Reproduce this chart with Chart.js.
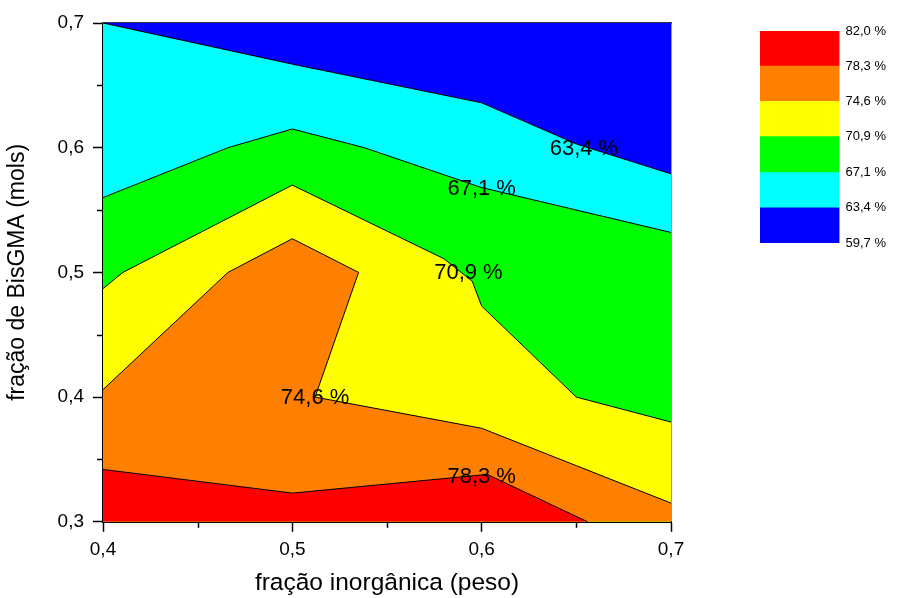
<!DOCTYPE html>
<html>
<head>
<meta charset="utf-8">
<script src="https://cdn.jsdelivr.net/npm/chart.js@4.4.0/dist/chart.umd.min.js"></script>
<style>
  html, body { margin: 0; padding: 0; background: #fff; }
  #wrap { position: relative; width: 897px; height: 598px; }
  #contour { position: absolute; left: 0; top: 0; }
  #scale { position: absolute; left: 700px; top: 0; }
</style>
</head>
<body>
<div id="wrap">
  <canvas id="contour" width="897" height="598"></canvas>
  <canvas id="scale" width="197" height="280"></canvas>
</div>
<script>
// contour levels (%) and the fill colour of each band between them
const levels = [59.7, 63.4, 67.1, 70.9, 74.6, 78.3, 82.0];
const bandColors = ["#0000ff", "#00ffff", "#00ff00", "#ffff00", "#ff8000", "#ff0000"];

// iso-lines as [fração inorgânica, fração de BisGMA]
const line634 = [[0.4, 0.7], [0.5, 0.667], [0.6, 0.636], [0.65, 0.603], [0.7, 0.579]];
const line671 = [[0.4, 0.560], [0.466, 0.6], [0.5, 0.615], [0.538, 0.6], [0.6, 0.568], [0.7, 0.532]];
const line709 = [[0.4, 0.487], [0.4105, 0.5], [0.5, 0.570], [0.58, 0.511], [0.595, 0.493], [0.6, 0.473], [0.65, 0.4], [0.7, 0.38]];
const line746 = [[0.4, 0.406], [0.466, 0.5], [0.5, 0.527], [0.535, 0.5], [0.512, 0.4], [0.6, 0.375], [0.65, 0.345], [0.7, 0.315]];
const line783 = [[0.4, 0.342], [0.5, 0.323], [0.603, 0.338], [0.656, 0.3]];
const isoLines = [line634, line671, line709, line746, line783];

// labels sitting on the iso-lines
const labelX = [0.654, 0.6, 0.593, 0.512, 0.6];
const labelY = [0.599, 0.567, 0.4995, 0.399, 0.336];
const labelText = ["63,4 %", "67,1 %", "70,9 %", "74,6 %", "78,3 %"];

// plot range
const xMin = 0.4, xMax = 0.7;
const yMin = 0.3, yMax = 0.7;

const FONT = '"Liberation Sans", Arial, Helvetica, sans-serif';

function toPts(arr) {
  return arr.map(p => ({x: p[0], y: p[1]}));
}

function isMajor(v) {
  return Math.abs(v * 10 - Math.round(v * 10)) < 1e-6;
}

function commaTick(v) {
  return isMajor(v) ? v.toFixed(1).replace(".", ",") : "";
}

// background band + one filled polygon below every iso-line, painted bottom-up
let datasets = [];
datasets.push({
  data: toPts([[xMin, yMin], [xMin, yMax], [xMax, yMax], [xMax, yMin]]),
  backgroundColor: bandColors[0],
  borderColor: "rgba(0,0,0,0)",
  fill: "shape",
  order: 20
});
isoLines.forEach((ln, i) => {
  datasets.push({
    data: toPts(ln.concat([[xMax, yMin], [xMin, yMin]])),
    backgroundColor: bandColors[i + 1],
    borderColor: "rgba(0,0,0,0)",
    fill: "shape",
    order: 10 - i
  });
});
isoLines.forEach((ln) => {
  datasets.push({
    data: toPts(ln),
    borderColor: "#000",
    borderWidth: 1,
    fill: false,
    order: 0
  });
});

const isoLabels = {
  id: "isoLabels",
  afterDatasetsDraw(chart) {
    const {ctx, scales: {x, y}} = chart;
    ctx.save();
    ctx.font = "22px " + FONT;
    ctx.fillStyle = "#000";
    ctx.textAlign = "center";
    ctx.textBaseline = "middle";
    labelText.forEach((t, i) => {
      ctx.fillText(t, x.getPixelForValue(labelX[i]), y.getPixelForValue(labelY[i]));
    });
    ctx.restore();
  }
};

// short marks for the unlabelled ticks (0,35 / 0,45 ...)
const minorTicks = {
  id: "minorTicks",
  afterDraw(chart) {
    const {ctx} = chart;
    ctx.save();
    ctx.strokeStyle = "#000";
    ctx.lineWidth = 1.5;
    ["x", "y"].forEach((id) => {
      const s = chart.scales[id];
      s.ticks.forEach((t) => {
        if (isMajor(t.value)) return;
        const p = Math.round(s.getPixelForValue(t.value)) + 0.5;
        ctx.beginPath();
        if (s.isHorizontal()) {
          ctx.moveTo(p, s.top);
          ctx.lineTo(p, s.top + 6);
        } else {
          ctx.moveTo(s.right, p);
          ctx.lineTo(s.right - 6, p);
        }
        ctx.stroke();
      });
    });
    ctx.restore();
  }
};

function mainAxis(pos, min, max, title, titleSize, titlePad, tickPad) {
  return {
    type: "linear",
    position: pos,
    min: min,
    max: max,
    z: 1,
    ticks: {
      stepSize: 0.05,
      autoSkip: false,
      maxRotation: 0,
      padding: tickPad,
      color: "#000",
      font: {family: FONT, size: 19},
      callback: commaTick
    },
    grid: {
      drawOnChartArea: false,
      tickLength: 10,
      tickWidth: 1.5,
      tickColor: (c) => (c.tick && isMajor(c.tick.value)) ? "#000" : "rgba(0,0,0,0)"
    },
    border: {color: "#000", width: 2},
    title: {
      display: true,
      text: title,
      color: "#000",
      font: {family: FONT, size: titleSize},
      padding: titlePad
    }
  };
}

function frameAxis(pos, min, max) {
  return {
    type: "linear",
    position: pos,
    min: min,
    max: max,
    z: 1,
    ticks: {display: false},
    grid: {display: false, drawTicks: false},
    border: {color: "#333", width: 1.5}
  };
}

const contourChart = new Chart(document.getElementById("contour"), {
  type: "line",
  data: {datasets: datasets},
  options: {
    responsive: false,
    devicePixelRatio: 1,
    animation: false,
    events: [],
    elements: {point: {radius: 0}, line: {tension: 0}},
    layout: {padding: {left: 4, top: 23, right: 226, bottom: 0}},
    plugins: {legend: {display: false}, tooltip: {enabled: false}},
    scales: {
      x: mainAxis("bottom", xMin, xMax, "fração inorgânica (peso)", 24.5, {top: 0, bottom: 0}, 7),
      y: mainAxis("left", yMin, yMax, "fração de BisGMA (mols)", 23, {top: 0, bottom: 17}, 9),
      xTop: frameAxis("top", xMin, xMax),
      yRight: frameAxis("right", yMin, yMax)
    }
  },
  plugins: [isoLabels, minorTicks]
});

// colour scale: one floating bar per band, ticks at the level values
const scaleChart = new Chart(document.getElementById("scale"), {
  type: "bar",
  data: {
    labels: [""],
    datasets: bandColors.map((c, i) => ({
      data: [[levels[i], levels[i + 1]]],
      backgroundColor: c,
      borderWidth: 0,
      grouped: false,
      barPercentage: 1,
      categoryPercentage: 1
    }))
  },
  options: {
    responsive: false,
    devicePixelRatio: 1,
    animation: false,
    events: [],
    layout: {padding: {left: 60, top: 31, right: 5, bottom: 37}},
    plugins: {legend: {display: false}, tooltip: {enabled: false}},
    scales: {
      x: {display: false},
      y: {
        position: "right",
        min: levels[0],
        max: levels[levels.length - 1],
        afterBuildTicks: (axis) => {
          axis.ticks = levels.map(v => ({value: v}));
        },
        ticks: {
          padding: 6,
          color: "#000",
          font: {family: FONT, size: 13},
          callback: (v) => v.toFixed(1).replace(".", ",") + " %"
        },
        grid: {display: false, drawTicks: false},
        border: {display: false}
      }
    }
  }
});
</script>
</body>
</html>
